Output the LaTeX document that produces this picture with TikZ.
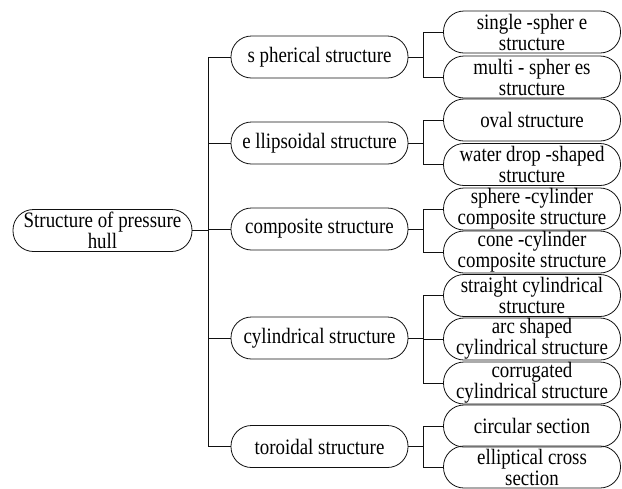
\documentclass[tikz,border=0pt]{standalone}
\usepackage{fontspec}
\setmainfont{Liberation Serif}[FakeStretch=0.86]
\definecolor{Ink}{HTML}{111111}

\begin{document}
\begin{tikzpicture}[x=1pt,y=-1pt,
  pill/.style={draw=Ink, rectangle, rounded corners=20.5pt, line width=0.8pt, minimum height=42pt, inner xsep=0pt, inner ysep=-3pt, align=center, font=\fontsize{22}{21}\selectfont},
  mainpill/.style={pill, minimum width=177pt},
  subpill/.style={pill, minimum width=177pt},
  link/.style={draw=Ink, line width=0.8pt}]
\useasboundingbox (0,0) rectangle (622,488);
\fill[white] (0,0) rectangle (622,488);
\node[pill, minimum width=179pt] (hull) at (102.5,230.5){Structure of pressure\\hull};
\node[mainpill] (sph) at (319.5,57){s pherical structure};
\node[mainpill] (ell) at (319.5,143){e llipsoidal structure};
\node[mainpill] (comp) at (319.5,229){composite structure};
\node[mainpill] (cyl) at (319.5,338){cylindrical structure};
\node[mainpill] (tor) at (319.5,446.5){toroidal structure};
\node[subpill] (single) at (532,32){single -spher e\\structure};
\node[subpill] (multi) at (532,77){multi - spher es\\structure};
\node[subpill] (oval) at (532,120){oval structure};
\node[subpill] (drop) at (532,164.5){water drop -shaped\\structure};
\node[subpill] (sphcyl) at (532,209){sphere -cylinder\\composite structure};
\node[subpill] (conecyl) at (532,252){cone -cylinder\\composite structure};
\node[subpill] (straight) at (532,295.5){straight cylindrical\\structure};
\node[subpill] (arc) at (532,339){arc shaped\\cylindrical structure};
\node[subpill] (corr) at (532,383){corrugated\\cylindrical structure};
\node[subpill] (circ) at (532,426){circular section};
\node[subpill] (ellcross) at (532,467){elliptical cross\\section};
% trunk
\draw[link] (hull.east) -- ++(16,0) |- (sph.west);
\draw[link] (hull.east) -- ++(16,0) |- (ell.west);
\draw[link] (hull.east) -- ++(16,0) |- (comp.west);
\draw[link] (hull.east) -- ++(16,0) |- (cyl.west);
\draw[link] (hull.east) -- ++(16,0) |- (tor.west);
% brackets
\draw[link] (sph.east) -- ++(15,0) |- (single.west);
\draw[link] (sph.east) -- ++(15,0) |- (multi.west);
\draw[link] (ell.east) -- ++(15,0) |- (oval.west);
\draw[link] (ell.east) -- ++(15,0) |- (drop.west);
\draw[link] (comp.east) -- ++(15,0) |- (sphcyl.west);
\draw[link] (comp.east) -- ++(15,0) |- (conecyl.west);
\draw[link] (cyl.east) -- ++(15,0) |- (straight.west);
\draw[link] (cyl.east) -- ++(15,0) |- (arc.west);
\draw[link] (cyl.east) -- ++(15,0) |- (corr.west);
\draw[link] (tor.east) -- ++(15,0) |- (circ.west);
\draw[link] (tor.east) -- ++(15,0) |- (ellcross.west);
\end{tikzpicture}
\end{document}
